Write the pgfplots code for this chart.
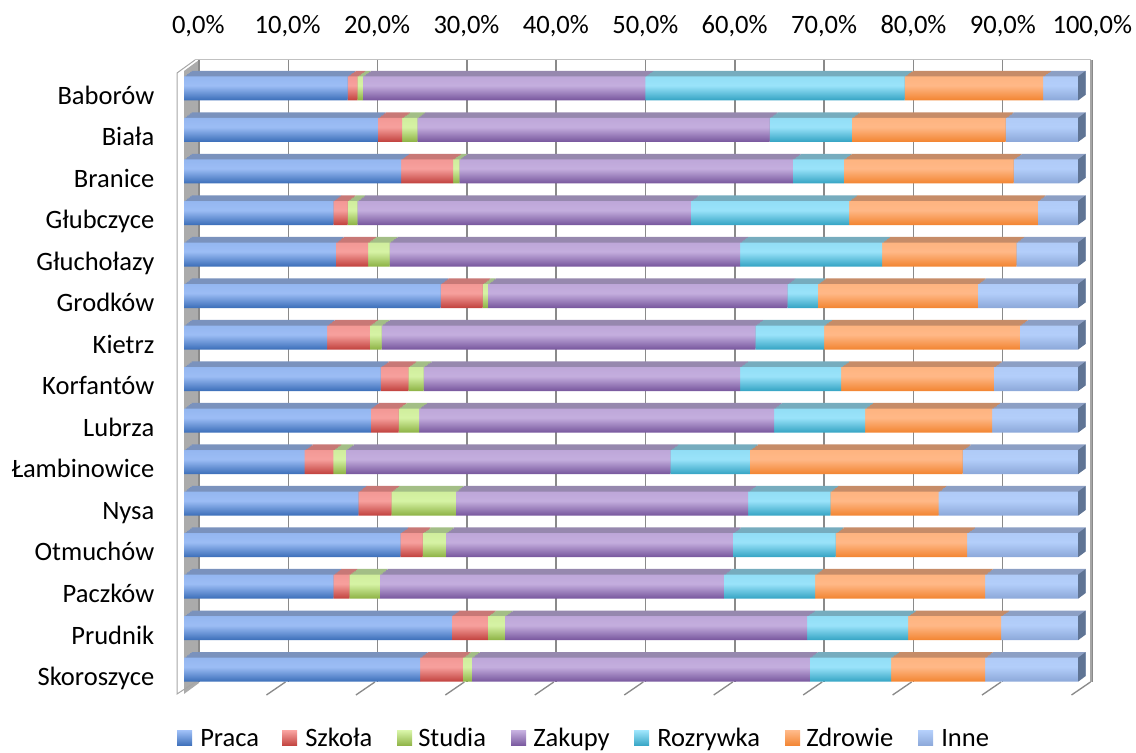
\documentclass[border=0pt]{standalone}
\usepackage{pgfplots}
\pgfplotsset{compat=1.18}
\usepackage{pgfplotstable}
\usepackage{fontspec}
\setmainfont{Carlito}

\definecolor{pracaT}{HTML}{9CBDF5}\definecolor{pracaB}{HTML}{3A6DB8}\definecolor{pracaS}{HTML}{7A92BD}
\definecolor{szkT}{HTML}{F7A09D}\definecolor{szkB}{HTML}{C0403C}\definecolor{szkS}{HTML}{C87876}
\definecolor{studT}{HTML}{D6F3A5}\definecolor{studB}{HTML}{8CB143}\definecolor{studS}{HTML}{A3BE86}
\definecolor{zakT}{HTML}{C4AEDE}\definecolor{zakB}{HTML}{76559C}\definecolor{zakS}{HTML}{9688AE}
\definecolor{rozT}{HTML}{9AE3FA}\definecolor{rozB}{HTML}{33A3C3}\definecolor{rozS}{HTML}{76ACBE}
\definecolor{zdrT}{HTML}{FFB887}\definecolor{zdrB}{HTML}{F28430}\definecolor{zdrS}{HTML}{C68C68}
\definecolor{inT}{HTML}{B3CEFA}\definecolor{inB}{HTML}{8BA7D8}\definecolor{inS}{HTML}{8C9FC4}
\definecolor{endc}{HTML}{5F7494}
\definecolor{gridc}{HTML}{8A8A8A}
\definecolor{framec}{HTML}{A6A6A6}
\definecolor{wallc}{HTML}{ABABAB}

% one gradient band per bar: the shading's middle 50bp maps onto the bounding box of a series
% rows 0..14, spacing 31.14pt, bar width 18pt -> box height 453.96pt
\newcommand\makebarshade[3]{%
  \gdef\spec{color(0bp)=(#2);}%
  \foreach \i in {0,...,14}{%
    \pgfmathsetmacro\sb{25+\i*3.429817}%
    \pgfmathsetmacro\sm{\sb+1.9825*0.62}%
    \pgfmathsetmacro\st{\sb+1.9825}%
    \xdef\spec{\spec color(\sb bp)=(#2); color(\sm bp)=(#3); color(\st bp)=(#3!92!#2);}%
  }%
  \xdef\spec{\spec color(100bp)=(#3!92!#2)}%
  \edef\tmp{\noexpand\pgfdeclareverticalshading{#1}{100bp}{\spec}}\tmp
}
\makebarshade{shPraca}{pracaB}{pracaT}
\makebarshade{shSzkola}{szkB}{szkT}
\makebarshade{shStudia}{studB}{studT}
\makebarshade{shZakupy}{zakB}{zakT}
\makebarshade{shRozrywka}{rozB}{rozT}
\makebarshade{shZdrowie}{zdrB}{zdrT}
\makebarshade{shInne}{inB}{inT}

% segment widths in percent; y=14 Baborow ... y=0 Skoroszyce
\pgfplotstableread{
y Praca Szkola Studia Zakupy Rozrywka Zdrowie Inne
14 18.3 1.1 0.6 31.6 29.0 15.5 3.9
13 21.7 2.7 1.7 39.4 9.2 17.2 8.1
12 24.3 5.8 0.7 37.3 5.7 19.0 7.2
11 16.7 1.6 1.1 37.3 17.7 21.1 4.5
10 17.0 3.6 2.4 39.2 15.9 15.0 6.9
9 28.7 4.7 0.6 33.5 3.4 17.9 11.2
8 16.0 4.8 1.3 41.8 7.7 21.9 6.5
7 22.0 3.1 1.7 35.4 11.3 17.1 9.4
6 20.9 3.1 2.3 39.7 10.2 14.2 9.6
5 13.5 3.2 1.4 36.3 8.9 23.8 12.9
4 19.5 3.7 7.2 32.7 9.2 12.1 15.6
3 24.2 2.5 2.6 32.1 11.5 14.7 12.4
2 16.7 1.8 3.4 38.5 10.2 19.0 10.4
1 29.9 4.1 1.9 33.8 11.3 10.4 8.6
0 26.4 4.8 1.0 37.8 9.1 10.5 10.4
}\data

\pgfplotsset{
  layerbase/.style={xbar stacked, scale only axis, width=670.5pt, height=467.1pt,
    anchor=south west, xmin=0, xmax=100, ymin=-0.5, ymax=14.5, bar width=18pt, clip=false},
}

\begin{document}
\begin{tikzpicture}[font=\fontsize{19.9pt}{24pt}\selectfont]
\path[use as bounding box] (0,0) rectangle (852pt,564.75pt);
% frame in pixel coordinates (origin top-left)
\begin{scope}[x=0.75pt,y=-0.75pt,shift={(0pt,564.75pt)}]
  \fill[wallc] (184,694) -- (199,683) -- (199,60) -- (184,71) -- cycle;
  \draw[framec!70, line width=0.75pt] (195,60) -- (1091,60);
  \foreach \k in {0,...,10} {
    \draw[gridc, line width=1.1pt] ({199+89.3*\k},60) -- ({199+89.3*\k},682);
  }
  \draw[framec, line width=0.9pt] (1091,60) -- (1091,682);
  \draw[framec, line width=0.75pt] (195,60) -- (177,73) -- (177,694) -- (197,681);
  \foreach \k in {1,...,10} {
    \draw[gridc, line width=1pt] ({177+89.45*\k},695) -- ({196+89.45*\k},682);
  }
  % legend
  \foreach \sx/\tx/\ct/\cb/\name in {177/200/pracaT/pracaB/Praca, 282/305/szkT/szkB/Szkoła,
      397/418/studT/studB/Studia, 511/533/zakT/zakB/Zakupy, 634/657/rozT/rozB/Rozrywka,
      785/806/zdrT/zdrB/Zdrowie, 918/941/inT/inB/Inne} {
    \fill[top color=\ct, bottom color=\cb] (\sx,731) rectangle ({\sx+15},746);
    \node[anchor=base west, inner sep=0pt] at (\tx,746.5) {\name};
  }
\end{scope}

% depth layers for the 3D top faces
\foreach \t in {1,0.8,0.6,0.4,0.2} {
\begin{axis}[layerbase, hide axis, at={(138pt+5.775pt*\t,46.875pt+4.275pt*\t)}]
  \addplot[draw=none, fill=pracaS] table[x=Praca,y=y]{\data};
  \addplot[draw=none, fill=szkS] table[x=Szkola,y=y]{\data};
  \addplot[draw=none, fill=studS] table[x=Studia,y=y]{\data};
  \addplot[draw=none, fill=zakS] table[x=Zakupy,y=y]{\data};
  \addplot[draw=none, fill=rozS] table[x=Rozrywka,y=y]{\data};
  \addplot[draw=none, fill=zdrS] table[x=Zdrowie,y=y]{\data};
  \addplot[draw=none, fill=inS] table[x=Inne,y=y]{\data};
\end{axis}
}

\begin{axis}[layerbase, at={(138pt,46.875pt)},
  axis line style={draw=none}, major tick length=0pt, tick style={draw=none},
  xtick={0,10,...,100},
  xticklabels={{0,0\%},{10,0\%},{20,0\%},{30,0\%},{40,0\%},{50,0\%},{60,0\%},{70,0\%},{80,0\%},{90,0\%},{100,0\%}},
  xticklabel pos=upper,
  xticklabel style={anchor=base, inner sep=0pt, xshift=10.7pt, yshift=25.8pt, font=\fontsize{19.9pt}{24pt}\selectfont},
  ytick={0,...,14},
  yticklabels={Skoroszyce,Prudnik,Paczków,Otmuchów,Nysa,Łambinowice,Lubrza,Korfantów,Kietrz,Grodków,Głuchołazy,Głubczyce,Branice,Biała,Baborów},
  yticklabel style={anchor=base east, inner sep=0pt, xshift=-22.1pt, yshift=-11.85pt, font=\fontsize{19.9pt}{24pt}\selectfont},
]
  \pgfplotsinvokeforeach{0,...,14}{
    \fill[endc] ([yshift=9pt]axis cs:100,#1) -- ([xshift=5.775pt,yshift=13.275pt]axis cs:100,#1)
      -- ([xshift=5.775pt,yshift=-4.725pt]axis cs:100,#1) -- ([yshift=-9pt]axis cs:100,#1) -- cycle;
  }
  \addplot[draw=none, shade, shading=shPraca] table[x=Praca,y=y]{\data};
  \addplot[draw=none, shade, shading=shSzkola] table[x=Szkola,y=y]{\data};
  \addplot[draw=none, shade, shading=shStudia] table[x=Studia,y=y]{\data};
  \addplot[draw=none, shade, shading=shZakupy] table[x=Zakupy,y=y]{\data};
  \addplot[draw=none, shade, shading=shRozrywka] table[x=Rozrywka,y=y]{\data};
  \addplot[draw=none, shade, shading=shZdrowie] table[x=Zdrowie,y=y]{\data};
  \addplot[draw=none, shade, shading=shInne] table[x=Inne,y=y]{\data};
\end{axis}
\end{tikzpicture}
\end{document}
